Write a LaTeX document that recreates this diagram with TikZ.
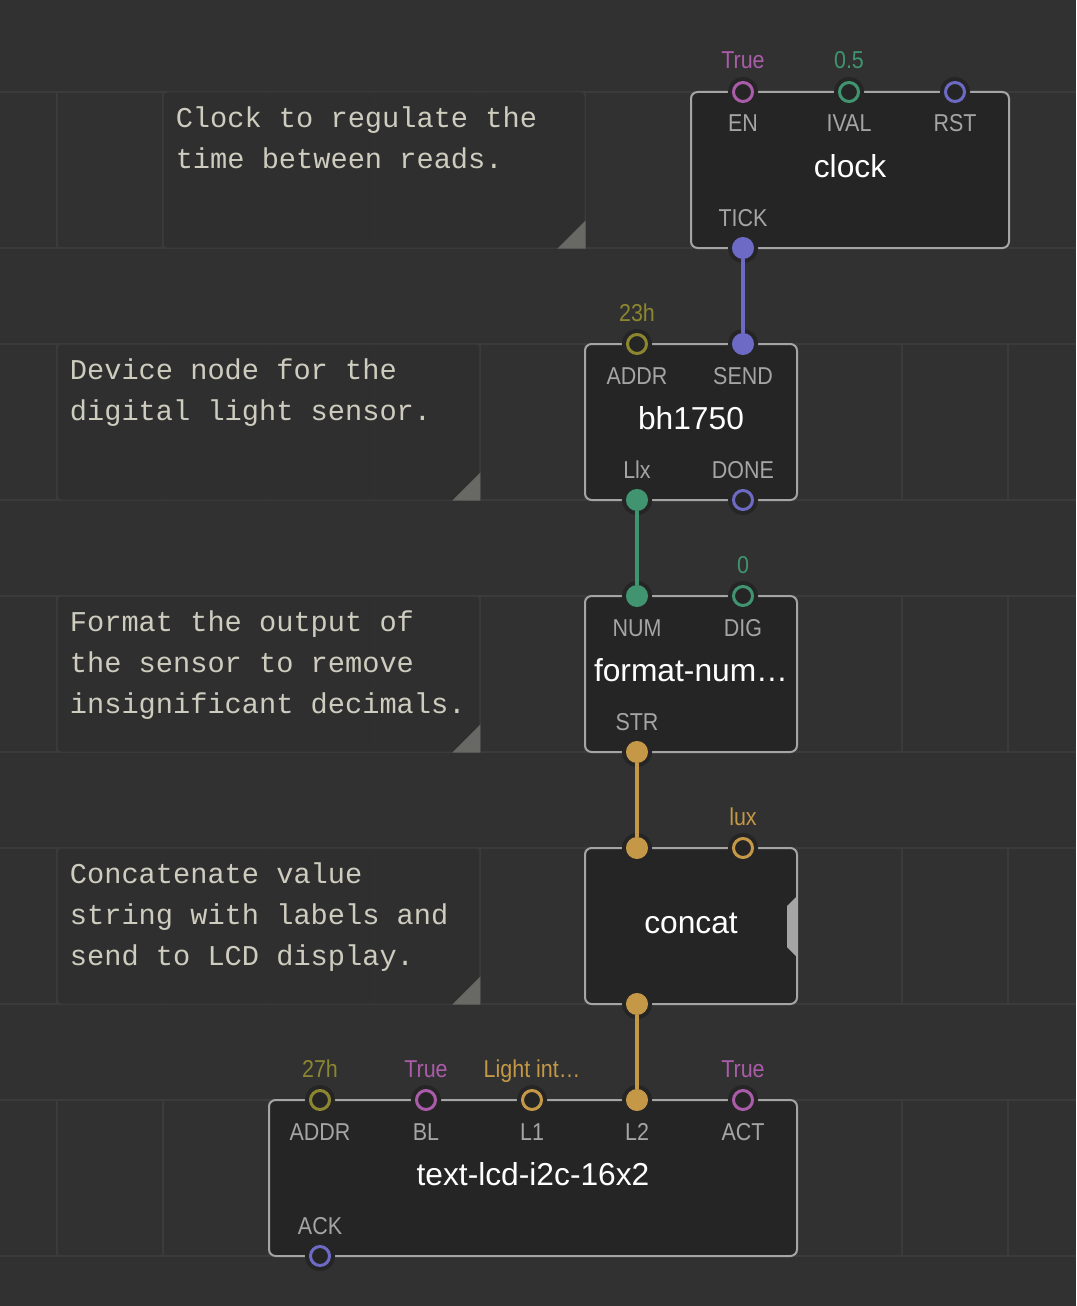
\documentclass[tikz,border=0pt]{standalone}
\usepackage{fontspec}
\setmainfont{Liberation Sans}
\newfontfamily\pinfont[FakeStretch=0.88]{Liberation Sans}
\newfontfamily\notefont{Liberation Mono}
\usetikzlibrary{calc,positioning}

\definecolor{canvas}{RGB}{49,49,49}
\definecolor{gridline}{RGB}{59,59,59}
\definecolor{notefill}{RGB}{47,47,47}
\definecolor{notetext}{RGB}{206,204,190}
\definecolor{fold}{RGB}{104,104,100}
\definecolor{patchfill}{RGB}{37,37,37}
\definecolor{patchedge}{RGB}{165,165,165}
\definecolor{pinlabel}{RGB}{165,165,165}
\definecolor{pulse}{RGB}{108,106,196}
\definecolor{num}{RGB}{64,148,112}
\definecolor{bool}{RGB}{170,92,168}
\definecolor{byte}{RGB}{140,134,48}
\definecolor{str}{RGB}{196,152,70}

\begin{document}
\begin{tikzpicture}[x=0.75pt,y=-0.75pt,
    patch/.style={draw=patchedge,fill=patchfill,line width=1.5pt,rounded corners=5pt,minimum height=117pt,inner sep=0pt},
    note/.style={draw=gridline,fill=notefill,fill opacity=0.85,line width=0.75pt,rounded corners=3pt,minimum width=317pt,minimum height=117pt,inner sep=0pt},
    notetext/.style={anchor=north west,inner sep=0pt,align=left,text=notetext,font=\notefont\fontsize{21.5pt}{30.75pt}\selectfont},
    heading/.style={anchor=base,inner sep=0pt,text=white,font=\fontsize{23.8pt}{26pt}\selectfont},
    portring/.style={circle,inner sep=0pt,minimum size=14.25pt,line width=2.25pt,draw=#1,fill=patchfill,
        preaction={draw=patchfill,fill=patchfill,line width=8.25pt}},
    portdot/.style={portring=#1,fill=#1},
    pinname/.style={anchor=base,inner sep=0pt,text=pinlabel,font=\pinfont\fontsize{18.3pt}{20pt}\selectfont},
    pinvalue/.style={pinname,text=#1},
    link/.style={draw=#1,line width=3pt}]

    \fill[canvas] (0,0) rectangle (1076,1306);
    \useasboundingbox (0,0) rectangle (1076,1306);

    \foreach \r in {92,344,596,848,1100} {
        \draw[gridline,line width=1.5pt] (0,\r) -- (1076,\r) (0,\r+156) -- (1076,\r+156);
        \foreach \c in {0,...,9}
            \draw[gridline,line width=1.5pt] (57.4+105.6*\c,\r) -- (57.4+105.6*\c,\r+156);
    }

    \node[note,minimum width=316.5pt] (note-clock) at (374,170) {};
    \node[note] (note-sensor) at (268.5,422) {};
    \node[note] (note-format) at (268.5,674) {};
    \node[note] (note-concat) at (268.5,926) {};
    \foreach \n in {note-clock,note-sensor,note-format,note-concat}
        \fill[fold] ($(\n.south east)+(-28,0)$) -- (\n.south east) -- ($(\n.south east)+(0,-28)$) -- cycle;

    \node[notetext] (txt-clock) at ($(note-clock.north west)+(13,14.7)$) {\rule{0pt}{16pt}Clock to regulate the\\time between reads.};
    \node[notetext] (txt-sensor) at ($(note-sensor.north west)+(13,14.7)$) {\rule{0pt}{16pt}Device node for the\\digital light sensor.};
    \node[notetext] (txt-format) at ($(note-format.north west)+(13,14.7)$) {\rule{0pt}{16pt}Format the output of\\the sensor to remove\\insignificant decimals.};
    \node[notetext] (txt-concat) at ($(note-concat.north west)+(13,14.7)$) {\rule{0pt}{16pt}Concatenate value\\string with labels and\\send to LCD display.};

    \node[patch,minimum width=238.5pt] (clock) at (850,170) {};
    \node[patch,minimum width=159pt] (bh1750) at (691,422) {};
    \node[patch,minimum width=159pt] (format) at (691,674) {};
    \node[patch,minimum width=159pt] (concat) at (691,926) {};
    \node[patch,minimum width=396pt] (lcd) at (533,1178) {};
    \fill[patchedge] (796,897) -- (787,906) -- (787,947) -- (796,956) -- cycle;

    \node[heading] (clock-name) at ($(clock.center)+(0,7)$) {clock};
    \node[heading] (bh1750-name) at ($(bh1750.center)+(0,7)$) {bh1750};
    \node[heading] (format-name) at ($(format.center)+(0,7)$) {format-num…};
    \node[heading] (concat-name) at ($(concat.center)+(0,7)$) {concat};
    \node[heading] (lcd-name) at ($(lcd.center)+(0,7)$) {text-lcd-i2c-16x2};

    \node[portring=bool] (clk-en) at (743,92) {};
    \node[portring=num] (clk-ival) at (849,92) {};
    \node[portring=pulse] (clk-rst) at (955,92) {};
    \node[portdot=pulse] (clk-tick) at (743,248) {};

    \node[portring=byte] (bh-addr) at (637,344) {};
    \node[portdot=pulse] (bh-send) at (743,344) {};
    \node[portdot=num] (bh-llx) at (637,500) {};
    \node[portring=pulse] (bh-done) at (743,500) {};

    \node[portdot=num] (fmt-num) at (637,596) {};
    \node[portring=num] (fmt-dig) at (743,596) {};
    \node[portdot=str] (fmt-str) at (637,752) {};

    \node[portdot=str] (cc-in1) at (637,848) {};
    \node[portring=str] (cc-in2) at (743,848) {};
    \node[portdot=str] (cc-out) at (637,1004) {};

    \node[portring=byte] (lcd-addr) at (320,1100) {};
    \node[portring=bool] (lcd-bl) at (426,1100) {};
    \node[portring=str] (lcd-l1) at (532,1100) {};
    \node[portdot=str] (lcd-l2) at (637,1100) {};
    \node[portring=bool] (lcd-act) at (743,1100) {};
    \node[portring=pulse] (lcd-ack) at (320,1256) {};

    \node[pinvalue=bool] (clk-en-v) at ($(clk-en)+(0,-23)$) {True};
    \node[pinvalue=num] (clk-ival-v) at ($(clk-ival)+(0,-23)$) {0.5};
    \node[pinvalue=byte] (bh-addr-v) at ($(bh-addr)+(0,-23)$) {23h};
    \node[pinvalue=num] (fmt-dig-v) at ($(fmt-dig)+(0,-23)$) {0};
    \node[pinvalue=str] (cc-in2-v) at ($(cc-in2)+(0,-23)$) {lux};
    \node[pinvalue=byte] (lcd-addr-v) at ($(lcd-addr)+(0,-23)$) {27h};
    \node[pinvalue=bool] (lcd-bl-v) at ($(lcd-bl)+(0,-23)$) {True};
    \node[pinvalue=str] (lcd-l1-v) at ($(lcd-l1)+(0,-23)$) {Light int…};
    \node[pinvalue=bool] (lcd-act-v) at ($(lcd-act)+(0,-23)$) {True};

    \node[pinname] (clk-en-l) at ($(clk-en)+(0,40)$) {EN};
    \node[pinname] (clk-ival-l) at ($(clk-ival)+(0,40)$) {IVAL};
    \node[pinname] (clk-rst-l) at ($(clk-rst)+(0,40)$) {RST};
    \node[pinname] (clk-tick-l) at ($(clk-tick)+(0,-22)$) {TICK};
    \node[pinname] (bh-addr-l) at ($(bh-addr)+(0,40)$) {ADDR};
    \node[pinname] (bh-send-l) at ($(bh-send)+(0,40)$) {SEND};
    \node[pinname] (bh-llx-l) at ($(bh-llx)+(0,-22)$) {Llx};
    \node[pinname] (bh-done-l) at ($(bh-done)+(0,-22)$) {DONE};
    \node[pinname] (fmt-num-l) at ($(fmt-num)+(0,40)$) {NUM};
    \node[pinname] (fmt-dig-l) at ($(fmt-dig)+(0,40)$) {DIG};
    \node[pinname] (fmt-str-l) at ($(fmt-str)+(0,-22)$) {STR};
    \node[pinname] (lcd-addr-l) at ($(lcd-addr)+(0,40)$) {ADDR};
    \node[pinname] (lcd-bl-l) at ($(lcd-bl)+(0,40)$) {BL};
    \node[pinname] (lcd-l1-l) at ($(lcd-l1)+(0,40)$) {L1};
    \node[pinname] (lcd-l2-l) at ($(lcd-l2)+(0,40)$) {L2};
    \node[pinname] (lcd-act-l) at ($(lcd-act)+(0,40)$) {ACT};
    \node[pinname] (lcd-ack-l) at ($(lcd-ack)+(0,-22)$) {ACK};

    \draw[link=pulse] (clk-tick) -- (bh-send);
    \draw[link=num] (bh-llx) -- (fmt-num);
    \draw[link=str] (fmt-str) -- (cc-in1);
    \draw[link=str] (cc-out) -- (lcd-l2);
\end{tikzpicture}
\end{document}
